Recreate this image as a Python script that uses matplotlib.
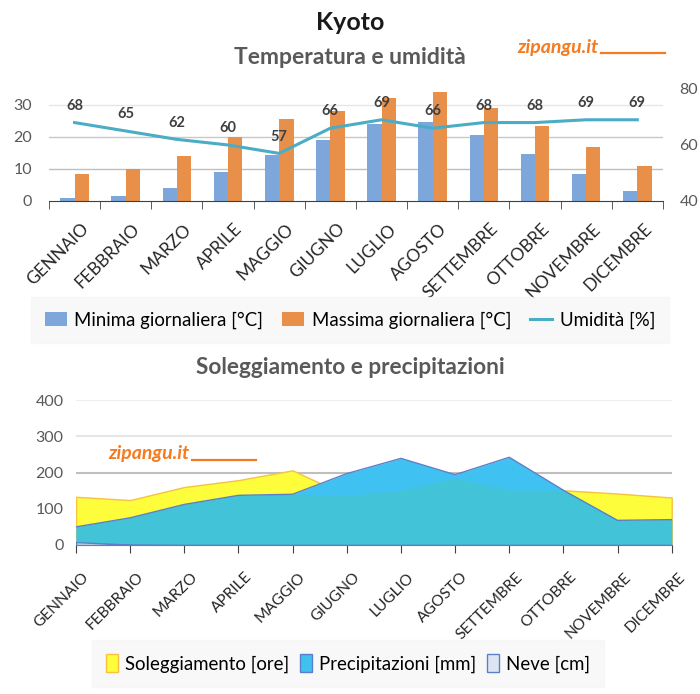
import matplotlib.pyplot as plt
import matplotlib.transforms as mtrans
from matplotlib.lines import Line2D
import numpy as np

plt.rcParams['font.family'] = ['Lato', 'DejaVu Sans']

mesi = ['GENNAIO', 'FEBBRAIO', 'MARZO', 'APRILE', 'MAGGIO', 'GIUGNO',
        'LUGLIO', 'AGOSTO', 'SETTEMBRE', 'OTTOBRE', 'NOVEMBRE', 'DICEMBRE']
t_min = [1.0, 1.7, 4.2, 9.0, 14.5, 19.1, 24.0, 24.8, 20.5, 14.8, 8.4, 3.2]
t_max = [8.5, 9.9, 14.2, 20.0, 25.6, 28.1, 32.3, 34.0, 29.0, 23.3, 16.9, 11.0]
umidita = [68, 65, 62, 60, 57, 66, 69, 66, 68, 68, 69, 69]
sole = [133, 124, 160, 179, 206, 136, 151, 184, 151, 151, 142, 131]
pioggia = [50, 75, 112, 137, 140, 197, 239, 194, 242, 151, 68, 70]
neve = [8, 1, 0, 0, 0, 0, 0, 0, 0, 0, 0, 0]

grigio = '#595959'
arancio = '#F47B20'

fig = plt.figure(figsize=(7, 6.94), dpi=100)

def watermark(xf, yf):
    # testo + trattino sottolineato, in coordinate figura
    fig.text(xf, yf, 'zipangu.it', ha='left', va='center', fontsize=14, fontweight='bold',
             style='italic', color=arancio, zorder=10)
    fig.add_artist(Line2D([xf + 0.120, xf + 0.211], [yf - 0.009, yf - 0.009], color=arancio,
                          lw=1.6, transform=fig.transFigure, zorder=10))

fig.text(0.5, 0.967, 'Kyoto', ha='center', va='center', fontsize=18, fontweight='bold', color='#1a1a1a')
fig.text(0.5, 0.917, 'Temperatura e umidità', ha='center', va='center', fontsize=16.5, fontweight='bold',
         color=grigio)
watermark(0.739, 0.932)

def sposta(ax, dx, dy):
    off = mtrans.ScaledTranslation(dx / 100, dy / 100, fig.dpi_scale_trans)
    for lab in ax.get_xticklabels():
        lab.set_transform(lab.get_transform() + off)

# --- temperatura e umidita ---
ax = fig.add_axes([0.07, 0.7104, 0.877, 0.1614])
x = np.arange(len(mesi))
b1 = ax.bar(x - 0.14, t_min, 0.28, color='#7DA7DB', label='Minima giornaliera [°C]')
b2 = ax.bar(x + 0.14, t_max, 0.28, color='#E8904A', label='Massima giornaliera [°C]')
ax.set_ylim(0, 35)
ax.set_xlim(-0.5, 11.5)
ax.set_yticks([0, 10, 20, 30])
for v, c in [(10, '#BFBFBF'), (20, '#C8C8C8'), (30, '#E6E6E6')]:
    ax.axhline(v, color=c, lw=1, zorder=0)
ax.set_xticks(x)
ax.set_xticklabels(mesi, rotation=45, ha='right', rotation_mode='anchor', fontsize=12.5, color='#262626')
ax.set_xticks(np.arange(-0.5, 12, 1), minor=True)
ax.tick_params(axis='x', which='major', length=0, pad=4)
ax.tick_params(axis='x', which='minor', length=6, color='#404040')
ax.tick_params(axis='y', length=0, labelsize=11.5, labelcolor=grigio, pad=12)
for s in ['top', 'left', 'right']:
    ax.spines[s].set_visible(False)
ax.spines['bottom'].set_color('#404040')
sposta(ax, 6, -14)

ax2 = ax.twinx()
l1, = ax2.plot(x, umidita, color='#4BACC6', lw=2.2, label='Umidità [%]')
ax2.set_ylim(40, 80)
ax2.set_yticks([40, 60, 80])
ax2.tick_params(axis='y', length=0, labelsize=11.5, labelcolor=grigio, pad=12)
for s in ['top', 'left', 'right', 'bottom']:
    ax2.spines[s].set_visible(False)
for xi, u in zip(x, umidita):
    ax2.annotate(str(u), (xi, u), xytext=(0, 7), textcoords='offset points', ha='center', va='bottom',
                 fontsize=10.5, fontweight='bold', color='#404040')

leg = fig.legend(handles=[b1, b2, l1], loc='center', bbox_to_anchor=(0.5, 0.539), ncol=3,
                 fontsize=13.4, frameon=True, fancybox=False, handlelength=1.2, handleheight=0.8,
                 columnspacing=1.0, handletextpad=0.4, borderpad=0.75, borderaxespad=0)
leg.get_frame().set_facecolor('#F7F7F7')
leg.get_frame().set_edgecolor('#F7F7F7')

# --- soleggiamento e precipitazioni ---
fig.text(0.5, 0.471, 'Soleggiamento e precipitazioni', ha='center', va='center', fontsize=16.3,
         fontweight='bold', color=grigio)
bx = fig.add_axes([0.1086, 0.2147, 0.851, 0.2089])
sole_a = np.array(sole)
pioggia_a = np.array(pioggia)
for v, c in [(100, '#D0D0D0'), (200, '#BFBFBF'), (300, '#E6E6E6'), (400, '#EEEEEE')]:
    bx.axhline(v, color=c, lw=1.5, zorder=0)
bx.fill_between(x, 0, sole_a, color='#FDFD3B', edgecolor='#F5C242', lw=1, zorder=1)
bx.fill_between(x, 0, pioggia_a, color='#3FC2F1', zorder=2, lw=0)
bx.plot(x, pioggia_a, color='#5B7FC8', lw=1, zorder=4)
bx.fill_between(x, 0, np.minimum(sole_a, pioggia_a), color='#42C3D7', lw=0, zorder=3)
bx.fill_between(x, 0, neve, color='#C9D5EA', edgecolor='#5B7FC8', lw=1, zorder=5)
bx.set_xlim(0, 11)
bx.set_ylim(0, 400)
bx.set_yticks([0, 100, 200, 300, 400])
bx.set_xticks(x)
bx.set_xticklabels(mesi, rotation=45, ha='right', rotation_mode='anchor', fontsize=11.2, color='#262626')
bx.tick_params(axis='x', length=6, color='#404040', pad=4)
bx.tick_params(axis='y', length=0, labelsize=11.5, labelcolor=grigio, pad=9)
for s in ['top', 'left', 'right']:
    bx.spines[s].set_visible(False)
bx.spines['bottom'].set_color('#404040')
sposta(bx, 6, -11)
watermark(0.154, 0.346)

h = [plt.Rectangle((0, 0), 1, 1, facecolor='#FDFD3B', edgecolor='#F5C242'),
     plt.Rectangle((0, 0), 1, 1, facecolor='#3FC2F1', edgecolor='#5B7FC8'),
     plt.Rectangle((0, 0), 1, 1, facecolor='#DDE5F2', edgecolor='#5B7FC8')]
leg2 = fig.legend(handles=h, labels=['Soleggiamento [ore]', 'Precipitazioni [mm]', 'Neve [cm]'],
                  loc='center', bbox_to_anchor=(0.497, 0.044), ncol=3, fontsize=13.4, frameon=True,
                  fancybox=False, handlelength=0.65, handleheight=1.1, columnspacing=0.6,
                  handletextpad=0.35, borderpad=0.75, borderaxespad=0)
leg2.get_frame().set_facecolor('#F7F7F7')
leg2.get_frame().set_edgecolor('#F7F7F7')

fig.savefig('out.png', dpi=100)
